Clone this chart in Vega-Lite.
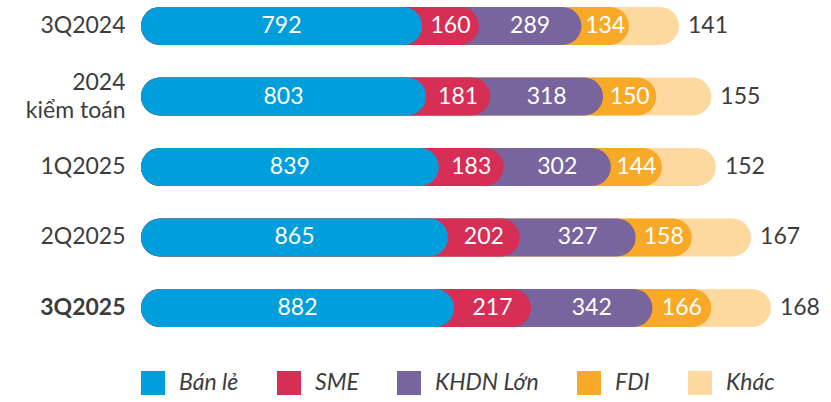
{
  "$schema": "https://vega.github.io/schema/vega-lite/v6.json",
  "width": 653,
  "height": 320,
  "autosize": "none",
  "padding": {"left": 141, "top": 7, "right": 37, "bottom": 75},
  "background": "white",
  "config": {"view": {"stroke": null}, "font": "Lato"},
  "data": {
    "values": [
      {"period": "3Q2024", "cat": "Bán lẻ", "value": 792, "order": 1},
      {"period": "3Q2024", "cat": "SME", "value": 160, "order": 2},
      {"period": "3Q2024", "cat": "KHDN Lớn", "value": 289, "order": 3},
      {"period": "3Q2024", "cat": "FDI", "value": 134, "order": 4},
      {"period": "3Q2024", "cat": "Khác", "value": 141, "order": 5},
      {"period": "2024|kiểm toán", "cat": "Bán lẻ", "value": 803, "order": 1},
      {"period": "2024|kiểm toán", "cat": "SME", "value": 181, "order": 2},
      {"period": "2024|kiểm toán", "cat": "KHDN Lớn", "value": 318, "order": 3},
      {"period": "2024|kiểm toán", "cat": "FDI", "value": 150, "order": 4},
      {"period": "2024|kiểm toán", "cat": "Khác", "value": 155, "order": 5},
      {"period": "1Q2025", "cat": "Bán lẻ", "value": 839, "order": 1},
      {"period": "1Q2025", "cat": "SME", "value": 183, "order": 2},
      {"period": "1Q2025", "cat": "KHDN Lớn", "value": 302, "order": 3},
      {"period": "1Q2025", "cat": "FDI", "value": 144, "order": 4},
      {"period": "1Q2025", "cat": "Khác", "value": 152, "order": 5},
      {"period": "2Q2025", "cat": "Bán lẻ", "value": 865, "order": 1},
      {"period": "2Q2025", "cat": "SME", "value": 202, "order": 2},
      {"period": "2Q2025", "cat": "KHDN Lớn", "value": 327, "order": 3},
      {"period": "2Q2025", "cat": "FDI", "value": 158, "order": 4},
      {"period": "2Q2025", "cat": "Khác", "value": 167, "order": 5},
      {"period": "3Q2025", "cat": "Bán lẻ", "value": 882, "order": 1},
      {"period": "3Q2025", "cat": "SME", "value": 217, "order": 2},
      {"period": "3Q2025", "cat": "KHDN Lớn", "value": 342, "order": 3},
      {"period": "3Q2025", "cat": "FDI", "value": 166, "order": 4},
      {"period": "3Q2025", "cat": "Khác", "value": 168, "order": 5}
    ]
  },
  "transform": [
    {"stack": "value", "groupby": ["period"], "sort": [{"field": "order", "order": "ascending"}], "as": ["x0", "x1"]}
  ],
  "encoding": {
    "y": {
      "field": "period",
      "type": "nominal",
      "sort": ["3Q2024", "2024|kiểm toán", "1Q2025", "2Q2025", "3Q2025"],
      "scale": {"paddingInner": 0.46, "paddingOuter": 0},
      "axis": {
        "title": null,
        "domain": false,
        "ticks": false,
        "labelPadding": 16,
        "labelFontSize": 23,
        "labelColor": "#3c3c3c",
        "labelLineHeight": 28,
        "labelExpr": "split(datum.value, '|')",
        "labelOffset": {"condition": {"test": "datum.value === '2024|kiểm toán'", "value": -14}, "value": 0},
        "labelFontWeight": {"condition": {"test": "datum.value === '3Q2025'", "value": "bold"}, "value": "normal"}
      }
    }
  },
  "layer": [
    {
      "mark": {"type": "bar", "cornerRadius": 19},
      "encoding": {
        "x": {"field": "x1", "type": "quantitative", "stack": null, "scale": {"domain": [0, 1840], "nice": false}, "axis": null},
        "color": {
          "field": "cat",
          "type": "nominal",
          "scale": {
            "domain": ["Bán lẻ", "SME", "KHDN Lớn", "FDI", "Khác"],
            "range": ["#009FDB", "#D62E55", "#79659E", "#F8A928", "#FDD9A0"]
          },
          "legend": {
            "title": null,
            "orient": "none",
            "direction": "horizontal",
            "legendX": 0,
            "legendY": 364,
            "symbolType": "square",
            "symbolSize": 576,
            "symbolStrokeWidth": 0,
            "labelFontSize": 23,
            "labelFontStyle": "italic",
            "labelColor": "#3c3c3c",
            "labelOffset": 14,
            "columnPadding": 38
          }
        },
        "order": {"field": "order", "sort": "descending"}
      }
    },
    {
      "transform": [{"filter": "datum.cat !== 'Khác'"}],
      "mark": {"type": "text", "color": "white", "fontSize": 23, "align": "center", "baseline": "middle"},
      "encoding": {
        "x": {"field": "value", "type": "quantitative", "stack": "zero", "bandPosition": 0.5},
        "detail": {"field": "cat"},
        "order": {"field": "order", "sort": "ascending"},
        "text": {"field": "value", "type": "quantitative"}
      }
    },
    {
      "transform": [{"filter": "datum.cat === 'Khác'"}],
      "mark": {"type": "text", "color": "#3c3c3c", "fontSize": 23, "align": "left", "baseline": "middle", "dx": 9},
      "encoding": {
        "x": {"field": "x1", "type": "quantitative", "stack": null},
        "text": {"field": "value", "type": "quantitative"}
      }
    }
  ]
}
